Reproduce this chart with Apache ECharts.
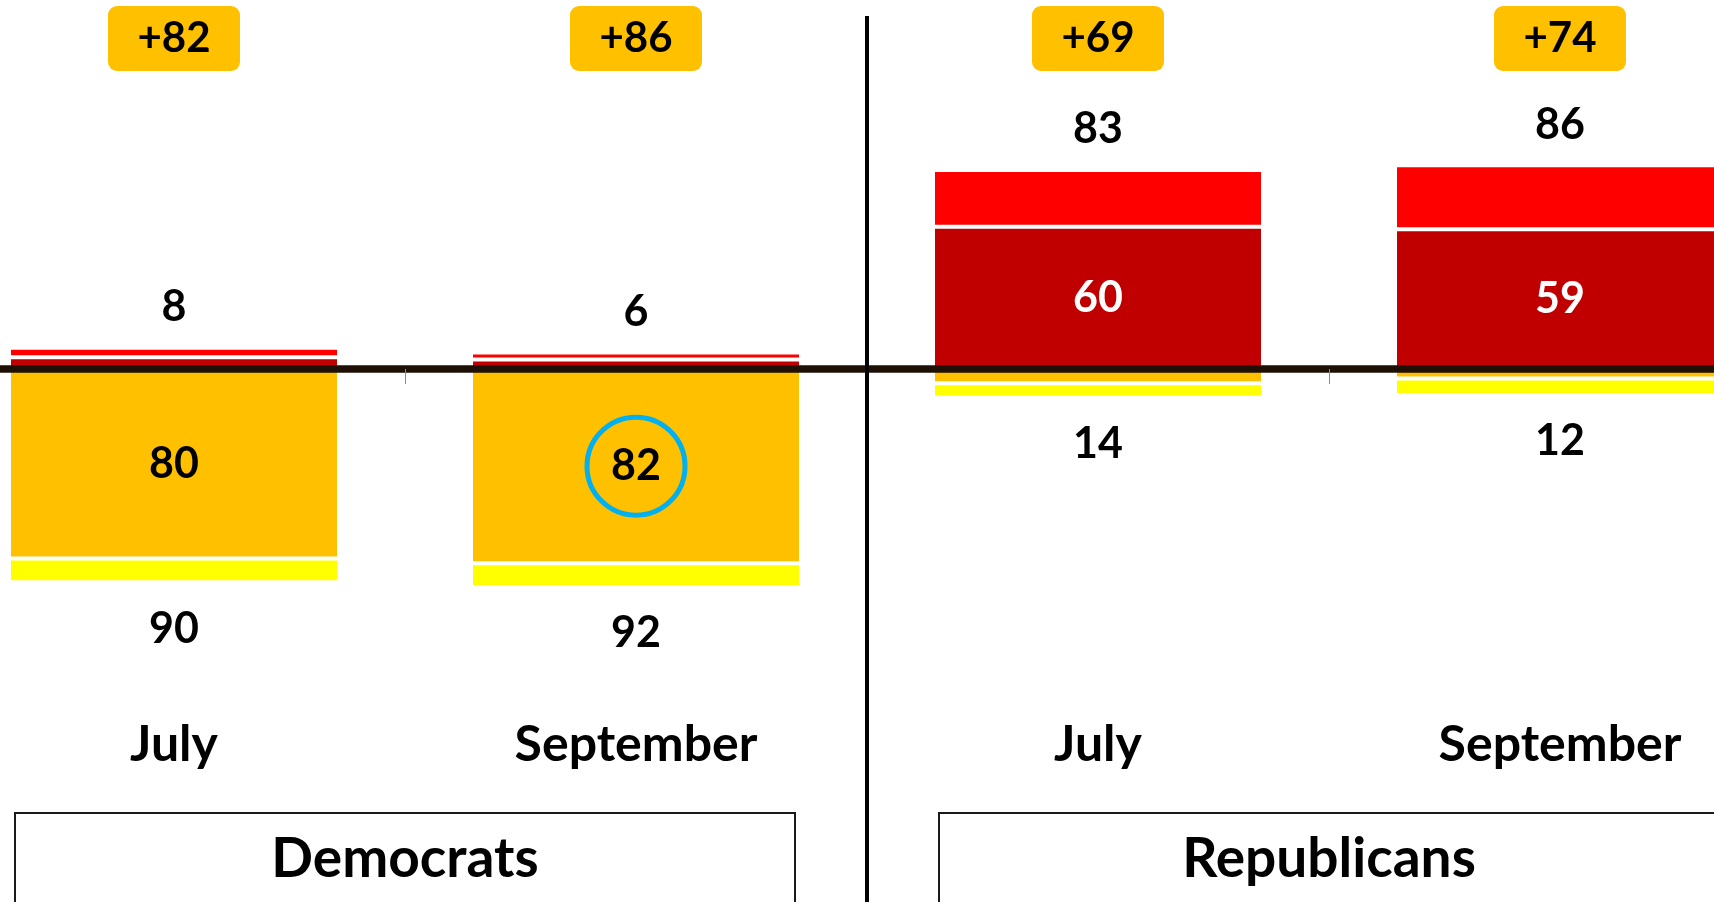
<!DOCTYPE html>
<html lang="en">

<head>
    <meta charset="UTF-8">
    <title>Net score by party</title>
    <script src="https://cdn.jsdelivr.net/npm/echarts@6/dist/echarts.min.js"></script>
</head>

<body style="margin:0;background-color:#fff;">
    <div id="main" style="position:absolute;left:0;top:0;width:1714px;height:902px"></div>

    <script>
        var months = ['July', 'September', 'July', 'September'];
        var parties = ['Democrats', 'Republicans'];
        // above the line: dark red (next to axis) + light red
        var topInner = [5, 4, 60, 59];
        var topOuter = [4, 3, 24, 27];
        // below the line: orange (next to axis) + yellow
        var bottomInner = [80, 82, 6, 4];
        var bottomOuter = [10, 10, 6, 7];
        var totalTop = [8, 6, 83, 86];
        var totalBottom = [90, 92, 14, 12];
        var net = [82, 86, 69, 74];
        var circled = 1; // Democrats, September

        var font = 'Lato';
        var myCharts = echarts.init(document.getElementById('main'));

        function bar(data, color, label) {
            return {
                type: 'bar',
                stack: 'all',
                barWidth: 330,
                data: data,
                itemStyle: { color: color, borderColor: '#fff', borderWidth: 2 },
                label: label
            };
        }

        var numLabel = { show: true, fontFamily: font, fontSize: 43, fontWeight: 'bold', lineHeight: 43, color: '#000' };
        var bigText = { interval: 0, hideOverlap: false, fontFamily: font, fontWeight: 'bold', color: '#000' };

        myCharts.setOption({
            animation: false,
            textStyle: { fontFamily: font },
            grid: { left: -57, right: -77, top: 132, bottom: 296, containLabel: false, outerBoundsMode: 'none' },
            xAxis: [{
                // zero line with ticks
                type: 'category',
                data: months,
                z: 10,
                axisLine: { onZero: true, lineStyle: { color: '#1f1006', width: 7.5 } },
                axisTick: { show: true, length: 15, interval: 0, lineStyle: { color: '#8a8a8a', width: 1 } },
                axisLabel: { show: false }
            }, {
                type: 'category',
                data: months,
                position: 'bottom',
                axisLine: { show: false, onZero: false },
                axisTick: { show: false },
                axisLabel: Object.assign({}, bigText, { margin: 114, fontSize: 50, lineHeight: 50 })
            }, {
                type: 'category',
                data: parties,
                position: 'bottom',
                axisLine: { show: false, onZero: false },
                axisTick: { show: false },
                axisLabel: Object.assign({}, bigText, {
                    margin: 207, fontSize: 55, lineHeight: 55, width: 780, padding: [19, 0, 60, 0],
                    borderColor: '#1a1a1a', borderWidth: 2
                })
            }, {
                type: 'category',
                data: net.map(function(v) { return '+' + v; }),
                position: 'top',
                axisLine: { show: false, onZero: false },
                axisTick: { show: false },
                axisLabel: {
                    interval: 0, margin: 61, fontFamily: font, fontSize: 42, fontWeight: 'bold', lineHeight: 65,
                    color: '#000', width: 132, backgroundColor: '#FFC000', borderRadius: 9
                }
            }],
            yAxis: { type: 'value', min: -100, max: 100, show: false, splitLine: { show: false } },
            series: [
                bar(topInner, '#C00000', Object.assign({}, numLabel, {
                    position: 'inside', color: '#fff',
                    formatter: function(p) { return p.value >= 20 ? p.value : ''; }
                })),
                bar(topOuter, '#FF0000', Object.assign({}, numLabel, {
                    position: 'top', distance: 19,
                    formatter: function(p) { return totalTop[p.dataIndex]; }
                })),
                bar(bottomInner.map(function(v) { return -v; }), '#FFC000', Object.assign({}, numLabel, {
                    position: 'inside',
                    formatter: function(p) { return Math.abs(p.value) >= 20 ? Math.abs(p.value) : ''; }
                })),
                bar(bottomOuter.map(function(v) { return -v; }), '#FFFF00', Object.assign({}, numLabel, {
                    position: 'bottom', distance: 25,
                    formatter: function(p) { return totalBottom[p.dataIndex]; }
                })),
                {
                    type: 'scatter',
                    silent: true,
                    z: 5,
                    symbolSize: 98,
                    data: [[circled, -bottomInner[circled] / 2]],
                    itemStyle: { color: 'rgba(0,0,0,0)', borderColor: '#00B0F0', borderWidth: 5, opacity: 1 }
                }
            ]
        });

        // divider between the two party groups
        var a = myCharts.convertToPixel({ xAxisIndex: 0 }, 1);
        var b = myCharts.convertToPixel({ xAxisIndex: 0 }, 2);
        var mid = (a + b) / 2;
        myCharts.setOption({
            graphic: [{
                type: 'line',
                z: 100,
                shape: { x1: mid, y1: 16, x2: mid, y2: 902 },
                style: { stroke: '#000', lineWidth: 4 }
            }]
        });
    </script>
</body>

</html>
